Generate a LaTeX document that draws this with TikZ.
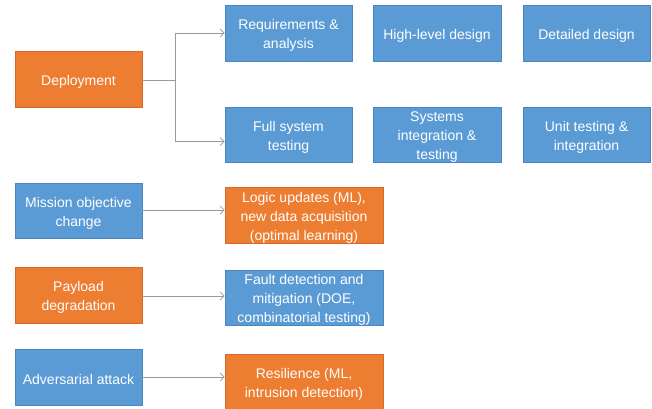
\documentclass[tikz,border=0pt]{standalone}
\usepackage{fontspec}
\setmainfont{Liberation Sans}
\usetikzlibrary{arrows.meta}
\definecolor{boxblue}{HTML}{5B9BD5}
\definecolor{boxorange}{HTML}{ED7D31}
\definecolor{edgeblue}{HTML}{4A86BF}
\definecolor{edgeorange}{HTML}{D2692A}
\definecolor{linegray}{HTML}{9A9A9A}
\tikzset{
  box/.style={rectangle, line width=0.6pt, inner sep=0pt},
  bluebox/.style={box, fill=boxblue, draw=edgeblue},
  orangebox/.style={box, fill=boxorange, draw=edgeorange},
  txt/.style={text=white, align=center, inner sep=0pt,
    font=\fontsize{14}{19}\selectfont},
  conn/.style={draw=linegray, line width=0.8pt,
    -{Straight Barb[length=4pt,width=8pt,line width=0.8pt]}},
  plain/.style={draw=linegray, line width=0.8pt}
}
\newcommand{\boxtext}[2]{\node[txt] (#1T) at ([yshift=-2.5pt]#1.center) {#2};}
\begin{document}
\begin{tikzpicture}[x=1pt,y=-1pt]
\clip (0,0) rectangle (652,408);
\useasboundingbox (0,0) rectangle (652,408);
\fill[white] (0,0) rectangle (652,408);

\node[orangebox, minimum width=127pt, minimum height=56pt] (dep) at (78.5,79.5) {};
\node[bluebox, minimum width=127pt, minimum height=56pt] (req) at (288.5,33) {};
\node[bluebox, minimum width=128pt, minimum height=56pt] (hld) at (437,33) {};
\node[bluebox, minimum width=127pt, minimum height=56pt] (dd) at (586.5,33) {};
\node[bluebox, minimum width=127pt, minimum height=55pt] (fst) at (288.5,134.5) {};
\node[bluebox, minimum width=128pt, minimum height=55pt] (sit) at (437,134.5) {};
\node[bluebox, minimum width=127pt, minimum height=55pt] (uti) at (586.5,134.5) {};
\node[bluebox, minimum width=127pt, minimum height=55pt] (mis) at (78.5,210.5) {};
\node[orangebox, minimum width=158pt, minimum height=56pt] (log) at (304,215) {};
\node[orangebox, minimum width=127pt, minimum height=56pt] (pay) at (78.5,295) {};
\node[bluebox, minimum width=158pt, minimum height=55pt] (fau) at (304,297.5) {};
\node[bluebox, minimum width=127pt, minimum height=56pt] (adv) at (78.5,377) {};
\node[orangebox, minimum width=158pt, minimum height=56pt] (res) at (304,382) {};

\boxtext{dep}{Deployment}
\boxtext{req}{Requirements \&\\analysis}
\boxtext{hld}{High-level design}
\boxtext{dd}{Detailed design}
\boxtext{fst}{Full system\\testing}
\boxtext{sit}{Systems\\integration \&\\testing}
\boxtext{uti}{Unit testing \&\\integration}
\boxtext{mis}{Mission objective\\change}
\boxtext{log}{Logic updates (ML),\\new data acquisition\\(optimal learning)}
\boxtext{pay}{Payload\\degradation}
\boxtext{fau}{Fault detection and\\mitigation (DOE,\\combinatorial testing)}
\boxtext{adv}{Adversarial attack}
\boxtext{res}{Resilience (ML,\\intrusion detection)}

\coordinate (j) at (175.5,80.5);
\draw[plain] (dep.east |- j) -- (j);
\draw[conn] (j) |- (req.west);
\draw[conn] (j) |- ([yshift=-7pt]fst.west);

\draw[conn] ([yshift=0.5pt]mis.east) -- ([yshift=0.5pt]mis.east -| log.west);
\draw[conn] ([yshift=-1pt]pay.east) -- ([yshift=-1pt]pay.east -| fau.west);
\draw[conn] (adv.east) -- (adv.east -| res.west);
\end{tikzpicture}
\end{document}
